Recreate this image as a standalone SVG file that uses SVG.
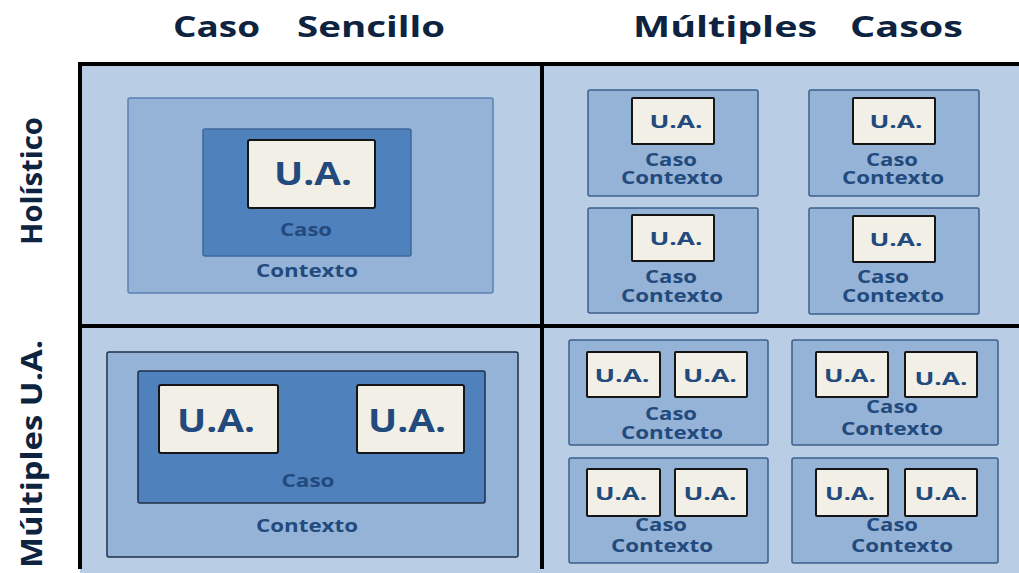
<svg xmlns="http://www.w3.org/2000/svg" width="1019" height="573" viewBox="0 0 1019 573">
  <style>
    text { font-family: "Open Sans", "Liberation Sans", sans-serif; font-weight: bold; }
    .title { font-size: 28px; fill: #0d2340; }
    .side { font-size: 28px; fill: #0d2340; text-anchor: middle; }
    .cell { fill: #b9cde5; }
    .ctx { fill: #95b3d7; stroke: #5b80b3; stroke-width: 1.5; }
    .ctxd { fill: #95b3d7; stroke: #1f2f48; stroke-width: 1.5; }
    .case { fill: #4f81bd; stroke: #3c689d; stroke-width: 1.5; }
    .cased { fill: #4f81bd; stroke: #1f2f48; stroke-width: 1.5; }
    .box { fill: #95b3d7; stroke: #3d5f8c; stroke-width: 1.5; }
    .ua { fill: #f2f0e6; stroke: #151515; stroke-width: 2; }
    .big { font-size: 32px; fill: #234a7d; text-anchor: middle; }
    .sm { font-size: 17px; fill: #234a7d; text-anchor: middle; }
  </style>

  <!-- column headings -->
  <g id="headings">
    <text class="title" y="37"><tspan x="173" textLength="87" lengthAdjust="spacingAndGlyphs">Caso</tspan><tspan x="297" textLength="148" lengthAdjust="spacingAndGlyphs">Sencillo</tspan></text>
    <text class="title" y="37"><tspan x="633" textLength="184" lengthAdjust="spacingAndGlyphs">Múltiples</tspan><tspan x="850" textLength="113" lengthAdjust="spacingAndGlyphs">Casos</tspan></text>
  </g>

  <!-- row headings -->
  <g id="rows">
    <text class="side" transform="translate(42,181) rotate(-90)" textLength="128" lengthAdjust="spacingAndGlyphs">Holístico</text>
    <text class="side" transform="translate(42,454) rotate(-90)" textLength="228" lengthAdjust="spacingAndGlyphs">Múltiples U.A.</text>
  </g>

  <!-- matrix background -->
  <rect class="cell" x="80" y="64" width="939" height="509"/>

  <!-- single case, holistic -->
  <g id="single-holistic">
    <rect class="ctx" x="128" y="98" width="365" height="195" rx="2"/>
    <rect class="case" x="203" y="129" width="208" height="127" rx="2"/>
    <rect class="ua" x="248" y="140" width="127" height="68" rx="2"/>
    <text class="big" x="313" y="185" textLength="78" lengthAdjust="spacingAndGlyphs">U.A.</text>
    <text class="sm" x="306" y="236" textLength="52" lengthAdjust="spacingAndGlyphs">Caso</text>
    <text class="sm" x="307" y="277" textLength="102" lengthAdjust="spacingAndGlyphs">Contexto</text>
  </g>

  <!-- multiple cases, holistic -->
  <g id="multi-holistic-1">
    <rect class="box" x="588" y="90" width="170" height="106" rx="2"/>
    <rect class="ua" x="632" y="98" width="82" height="46" rx="1"/>
    <text class="sm" x="676" y="128" textLength="53" lengthAdjust="spacingAndGlyphs">U.A.</text>
    <text class="sm" x="671" y="166" textLength="52" lengthAdjust="spacingAndGlyphs">Caso</text>
    <text class="sm" x="672" y="184" textLength="102" lengthAdjust="spacingAndGlyphs">Contexto</text>
  </g>
  <g id="multi-holistic-2">
    <rect class="box" x="809" y="90" width="170" height="106" rx="2"/>
    <rect class="ua" x="853" y="98" width="82" height="46" rx="1"/>
    <text class="sm" x="896" y="128" textLength="53" lengthAdjust="spacingAndGlyphs">U.A.</text>
    <text class="sm" x="892" y="166" textLength="52" lengthAdjust="spacingAndGlyphs">Caso</text>
    <text class="sm" x="893" y="184" textLength="102" lengthAdjust="spacingAndGlyphs">Contexto</text>
  </g>
  <g id="multi-holistic-3">
    <rect class="box" x="588" y="208" width="170" height="105" rx="2"/>
    <rect class="ua" x="632" y="215" width="82" height="46" rx="1"/>
    <text class="sm" x="676" y="245" textLength="53" lengthAdjust="spacingAndGlyphs">U.A.</text>
    <text class="sm" x="671" y="283" textLength="52" lengthAdjust="spacingAndGlyphs">Caso</text>
    <text class="sm" x="672" y="302" textLength="102" lengthAdjust="spacingAndGlyphs">Contexto</text>
  </g>
  <g id="multi-holistic-4">
    <rect class="box" x="809" y="208" width="170" height="106" rx="2"/>
    <rect class="ua" x="853" y="216" width="82" height="46" rx="1"/>
    <text class="sm" x="896" y="246" textLength="53" lengthAdjust="spacingAndGlyphs">U.A.</text>
    <text class="sm" x="883" y="283" textLength="52" lengthAdjust="spacingAndGlyphs">Caso</text>
    <text class="sm" x="893" y="302" textLength="102" lengthAdjust="spacingAndGlyphs">Contexto</text>
  </g>

  <!-- single case, multiple units -->
  <g id="single-embedded">
    <rect class="ctxd" x="107" y="352" width="411" height="205" rx="2"/>
    <rect class="cased" x="138" y="371" width="347" height="132" rx="2"/>
    <rect class="ua" x="159" y="385" width="119" height="68" rx="2"/>
    <rect class="ua" x="357" y="385" width="107" height="68" rx="2"/>
    <text class="big" x="216" y="432" textLength="78" lengthAdjust="spacingAndGlyphs">U.A.</text>
    <text class="big" x="407" y="432" textLength="78" lengthAdjust="spacingAndGlyphs">U.A.</text>
    <text class="sm" x="308" y="487" textLength="53" lengthAdjust="spacingAndGlyphs">Caso</text>
    <text class="sm" x="307" y="532" textLength="102" lengthAdjust="spacingAndGlyphs">Contexto</text>
  </g>

  <!-- multiple cases, multiple units -->
  <g id="multi-embedded-1">
    <rect class="box" x="569" y="340" width="199" height="105" rx="2"/>
    <rect class="ua" x="587" y="352" width="73" height="45" rx="1"/>
    <rect class="ua" x="675" y="352" width="72" height="45" rx="1"/>
    <text class="sm" x="622" y="382" textLength="55" lengthAdjust="spacingAndGlyphs">U.A.</text>
    <text class="sm" x="710" y="382" textLength="54" lengthAdjust="spacingAndGlyphs">U.A.</text>
    <text class="sm" x="671" y="420" textLength="52" lengthAdjust="spacingAndGlyphs">Caso</text>
    <text class="sm" x="672" y="439" textLength="102" lengthAdjust="spacingAndGlyphs">Contexto</text>
  </g>
  <g id="multi-embedded-2">
    <rect class="box" x="792" y="340" width="206" height="105" rx="2"/>
    <rect class="ua" x="816" y="352" width="72" height="45" rx="1"/>
    <rect class="ua" x="905" y="352" width="72" height="45" rx="1"/>
    <text class="sm" x="850" y="382" textLength="52" lengthAdjust="spacingAndGlyphs">U.A.</text>
    <text class="sm" x="941" y="385" textLength="53" lengthAdjust="spacingAndGlyphs">U.A.</text>
    <text class="sm" x="892" y="413" textLength="52" lengthAdjust="spacingAndGlyphs">Caso</text>
    <text class="sm" x="892" y="435" textLength="102" lengthAdjust="spacingAndGlyphs">Contexto</text>
  </g>
  <g id="multi-embedded-3">
    <rect class="box" x="569" y="458" width="199" height="105" rx="2"/>
    <rect class="ua" x="587" y="469" width="73" height="47" rx="1"/>
    <rect class="ua" x="675" y="469" width="72" height="47" rx="1"/>
    <text class="sm" x="621" y="500" textLength="52" lengthAdjust="spacingAndGlyphs">U.A.</text>
    <text class="sm" x="710" y="500" textLength="53" lengthAdjust="spacingAndGlyphs">U.A.</text>
    <text class="sm" x="661" y="531" textLength="52" lengthAdjust="spacingAndGlyphs">Caso</text>
    <text class="sm" x="662" y="552" textLength="102" lengthAdjust="spacingAndGlyphs">Contexto</text>
  </g>
  <g id="multi-embedded-4">
    <rect class="box" x="792" y="458" width="206" height="105" rx="2"/>
    <rect class="ua" x="816" y="469" width="72" height="47" rx="1"/>
    <rect class="ua" x="905" y="469" width="72" height="47" rx="1"/>
    <text class="sm" x="850" y="500" textLength="50" lengthAdjust="spacingAndGlyphs">U.A.</text>
    <text class="sm" x="941" y="500" textLength="53" lengthAdjust="spacingAndGlyphs">U.A.</text>
    <text class="sm" x="892" y="531" textLength="52" lengthAdjust="spacingAndGlyphs">Caso</text>
    <text class="sm" x="902" y="552" textLength="102" lengthAdjust="spacingAndGlyphs">Contexto</text>
  </g>

  <!-- matrix frame and dividers -->
  <g id="grid" stroke="#000" stroke-width="4" fill="none">
    <line x1="80" y1="62" x2="80" y2="569"/>
    <line x1="78" y1="64" x2="1019" y2="64"/>
    <line x1="542" y1="64" x2="542" y2="569"/>
    <line x1="80" y1="326" x2="1019" y2="326"/>
  </g>
</svg>
